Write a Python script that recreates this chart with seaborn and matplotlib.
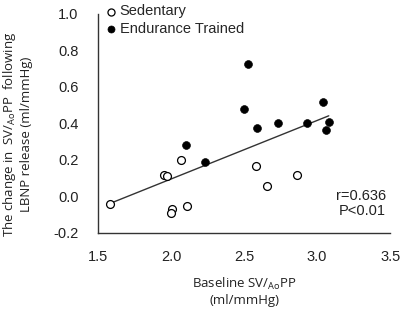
import numpy as np
import pandas as pd
import matplotlib
matplotlib.use("Agg")
import matplotlib.pyplot as plt
import seaborn as sns

#%% Data
sed_x = [1.58, 1.95, 1.97, 2.07, 2.01, 2.00, 2.11, 2.58, 2.66, 2.86]
sed_y = [-0.04, 0.12, 0.11, 0.20, -0.07, -0.09, -0.05, 0.165, 0.06, 0.12]
end_x = [2.10, 2.23, 2.50, 2.53, 2.59, 2.73, 2.93, 3.04, 3.06, 3.08]
end_y = [0.28, 0.19, 0.48, 0.725, 0.375, 0.40, 0.40, 0.515, 0.365, 0.41]

df = pd.DataFrame({
    "x": sed_x + end_x,
    "y": sed_y + end_y,
    "group": ["Sedentary"] * len(sed_x) + ["Endurance Trained"] * len(end_x),
})

#%% Plot
sns.set_style("white")
plt.rcParams["font.family"] = ["Liberation Sans", "DejaVu Sans"]

fig = plt.figure(figsize=(4.03, 3.17), dpi=100)
ax = fig.add_axes([0.243, 0.265, 0.725, 0.691])

# regression line over all subjects
sns.regplot(data=df, x="x", y="y", scatter=False, ci=None, truncate=True,
            line_kws={"color": "#333333", "lw": 1.0}, ax=ax)

sns.scatterplot(data=df[df.group == "Sedentary"], x="x", y="y",
                marker="o", s=32, facecolor="white", edgecolor="black",
                linewidth=0.9, label="Sedentary", ax=ax, zorder=3)
sns.scatterplot(data=df[df.group == "Endurance Trained"], x="x", y="y",
                marker="o", s=32, color="black", edgecolor="black",
                label="Endurance Trained", ax=ax, zorder=3)

ax.set_xlim(1.5, 3.5)
ax.set_ylim(-0.2, 1.0)
ax.set_xticks([1.5, 2.0, 2.5, 3.0, 3.5])
ax.set_yticks(np.arange(-0.2, 1.01, 0.2))
ax.set_xticklabels(["1.5", "2.0", "2.5", "3.0", "3.5"])
ax.set_yticklabels([f"{v:.1f}" for v in np.arange(-0.2, 1.01, 0.2)])
ax.tick_params(length=0, labelsize=10.5, colors="#222222")
ax.tick_params(axis="y", pad=14)
ax.tick_params(axis="x", pad=12)
sns.despine(ax=ax)
for s in ["left", "bottom"]:
    ax.spines[s].set_color("#333333")
    ax.spines[s].set_linewidth(1.0)

lab_font = {"family": ["Open Sans", "DejaVu Sans"], "size": 9.5}
ax.set_xlabel("Baseline SV/$_{\\mathregular{Ao}}$PP\n(ml/mmHg)", fontdict=lab_font,
              labelpad=9, color="#222222")
ax.set_ylabel("The change in  SV/$_{\\mathregular{Ao}}$PP  following\nLBNP release (ml/mmHg)",
              fontdict=lab_font, color="#222222")
ax.yaxis.set_label_coords(-0.222, 0.45)

ax.text(0.985, 0.135, "r=0.636\nP<0.01", transform=ax.transAxes, ha="right",
        va="center", fontsize=10.5, color="#222222", linespacing=1.15)

ax.legend(loc="upper left", bbox_to_anchor=(0.0, 1.07), frameon=False,
          fontsize=10.5, handletextpad=0.1, borderaxespad=0, labelspacing=0.25,
          handlelength=1.0, markerscale=0.9)

fig.savefig("out.png", dpi=100)
